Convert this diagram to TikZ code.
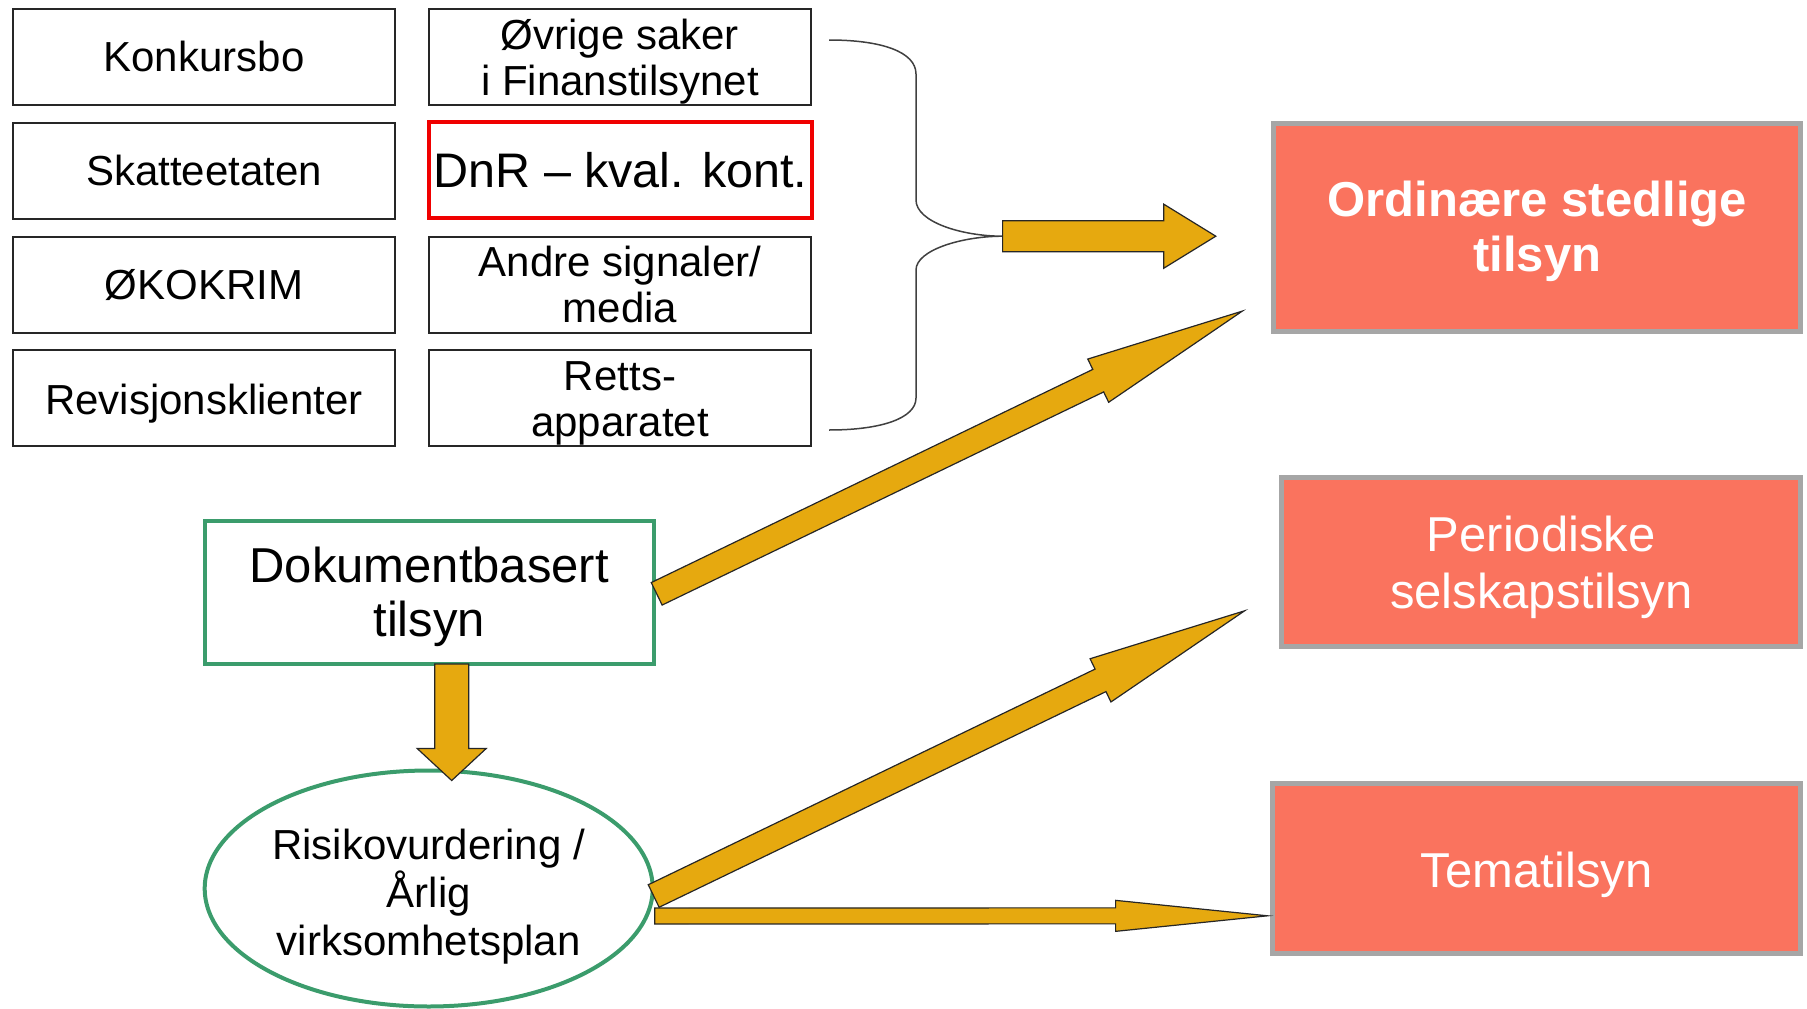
\documentclass[tikz,border=0pt]{standalone}
\usepackage{fontspec}
\setmainfont{Liberation Sans}
\usetikzlibrary{calc,shapes.geometric}
\definecolor{arrowc}{HTML}{E6A90F}
\definecolor{salmon}{HTML}{FA735E}
\definecolor{grayb}{HTML}{A6A6A6}
\definecolor{greenc}{HTML}{3B9C6C}
\definecolor{redc}{HTML}{F00000}
\newcommand\blockarrow[6]{% name, from, to, shaft half, head half, head length
  \coordinate (#1c) at ($(#3)!#6!(#2)$);
  \filldraw[barrow] ($(#2)!#4!90:(#3)$) -- ($(#1c)!#4!90:(#3)$) -- ($(#1c)!#5!90:(#3)$)
    -- (#3) -- ($(#1c)!#5!-90:(#3)$) -- ($(#1c)!#4!-90:(#3)$) -- ($(#2)!#4!-90:(#3)$) -- cycle;
}
% text of a box: box name, style, downward shift, text
\newcommand\boxtext[4]{\node[#2] (#1-t) at ($(#1)+(0,#3)$) {#4};}
\begin{document}
\begin{tikzpicture}[x=1pt,y=-1pt,
  srcbox/.style={draw=black!85, line width=2pt, minimum width=382.6pt, minimum height=96pt,
    inner sep=0pt, outer sep=0pt},
  redbox/.style={srcbox, draw=redc, line width=4.5pt},
  srctext/.style={inner sep=0pt, align=center, font=\fontsize{42}{46}\selectfont},
  redtext/.style={srctext, font=\fontsize{48.5}{54}\selectfont},
  targetbox/.style={fill=salmon, draw=grayb, line width=5pt, inner sep=0pt, outer sep=0pt},
  targettext/.style={inner sep=0pt, align=center, text=white, font=\fontsize{49}{57}\selectfont},
  greenbox/.style={draw=greenc, line width=4pt, inner sep=0pt, outer sep=0pt},
  barrow/.style={fill=arrowc, draw=black!85, line width=1.2pt, line join=miter},
  bracel/.style={draw=black!75, line width=1.5pt}]
\useasboundingbox (0,0) rectangle (1807,1009);

% source boxes
\node[srcbox] (konk) at (204,57) {};
\node[srcbox] (ovr) at (620,57) {};
\node[srcbox] (skatt) at (204,170.6) {};
\node[redbox] (dnr) at (620.5,170) {};
\node[srcbox] (oko) at (204,284.6) {};
\node[srcbox] (andre) at (620,284.6) {};
\node[srcbox] (rev) at (204,398.2) {};
\node[srcbox] (retts) at (620,398.2) {};
\boxtext{konk}{srctext}{-1}{Konkursbo}
\boxtext{ovr}{srctext}{5}{Øvrige saker\\i Finanstilsynet}
\boxtext{skatt}{srctext}{0}{Skatteetaten}
\boxtext{dnr}{redtext}{0}{DnR – kval. kont.}
\boxtext{oko}{srctext}{0}{ØKOKRIM}
\boxtext{andre}{srctext}{0}{Andre signaler/\\media}
\boxtext{rev}{srctext}{5}{Revisjonsklienter}
\boxtext{retts}{srctext}{5}{Retts-\\apparatet}

% target boxes
\node[targetbox, minimum width=527.5pt, minimum height=208pt] (ord) at (1537.2,227.6) {};
\node[targetbox, minimum width=519.5pt, minimum height=169pt] (per) at (1541.2,561.8) {};
\node[targetbox, minimum width=528.5pt, minimum height=170pt] (tem) at (1536.7,868.9) {};
\boxtext{ord}{targettext, font=\bfseries\fontsize{49}{55}\selectfont}{4}{Ordinære stedlige\\tilsyn}
\boxtext{per}{targettext}{6}{Periodiske\\selskapstilsyn}
\boxtext{tem}{targettext}{6}{Tematilsyn}

% document-based supervision and risk assessment
\node[greenbox, minimum width=449pt, minimum height=143.4pt] (dok) at (429.2,592.3) {};
\node[greenbox, ellipse, minimum width=448pt, minimum height=236pt] (ell) at (428.7,888.5) {};
\boxtext{dok}{srctext, font=\fontsize{49}{54}\selectfont}{5}{Dokumentbasert\\tilsyn}
\boxtext{ell}{srctext, font=\fontsize{42}{48}\selectfont}{8}{Risikovurdering /\\Årlig\\virksomhetsplan}

% brace
\coordinate (btip) at (1002.6,236.2);
\draw[bracel] (829,40) .. controls (882,40) and (916,52) .. (916,74) -- (916,200)
  .. controls (916,222) and (962,236.2) .. (btip)
  .. controls (962,236.2) and (916,250) .. (916,270) -- (916,398)
  .. controls (916,418) and (882,430) .. (829,430);

% free ends
\coordinate (ordtipA) at (1215.8,236.2);
\coordinate (ordtipB) at (1242.3,311.1);
\coordinate (pertip) at (1244.6,610.8);
\coordinate (temtip) at (1267.6,915.8);
\coordinate (t1) at ($(dok.east)+(3,1.5)$);
\coordinate (t2) at ($(ell.east)+(1,7.5)$);
\coordinate (t3) at ($(ell.east)+(2,27.5)$);
\coordinate (d1) at ($(dok.south)+(22.5,0)$);
\coordinate (d2) at ($(ell.north)+(23,10)$);

\blockarrow{aA}{btip}{ordtipA}{15.5pt}{32pt}{52pt}
\blockarrow{aB}{t1}{ordtipB}{12.5pt}{24pt}{160pt}
\blockarrow{aC}{t2}{pertip}{12.5pt}{24pt}{160pt}
\blockarrow{aD}{t3}{temtip}{8pt}{15.5pt}{152pt}
\blockarrow{aE}{d1}{d2}{17pt}{34.5pt}{32pt}
\end{tikzpicture}
\end{document}
